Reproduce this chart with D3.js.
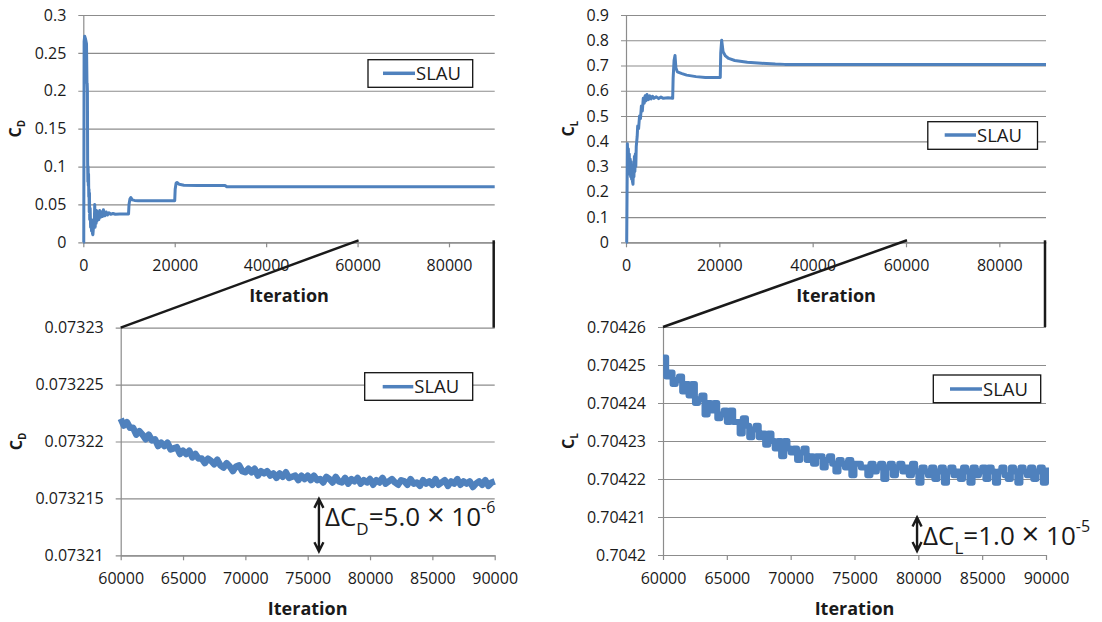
<!DOCTYPE html>
<html><head><meta charset="utf-8">
<script src="https://cdn.jsdelivr.net/npm/d3@7"></script>
<style>
body{margin:0;background:#fff;}
svg{display:block;font-family:"Open Sans",sans-serif;}
</style></head><body>
<svg id="c" width="1102" height="622"></svg>
<script>
// ---------------- data ----------------
const seriesName = "SLAU";
const xTitle = "Iteration";

// Top-left: C_D, whole history
const cdCoarseIter = [0,100,180,300,500,700,800,850,900,950,1000,1050,1100,1150,1200,1250,1300,1350,1400,1500,1600,1700,1800,1900,2000,2100,2200,2300,2400,2500,2600,2700,2800,2900,3000,3200,3400,3600,3800,4000,4200,4400,4700,5000,5300,5600,6000,6500,7000,8000,9000,9900,10000,10200,10400,10700,11200,12000,20000,20100,20300,20500,21000,22000,25000,31000,31400,40000,60000,90000];
const cdCoarseVal = [0,0,0.265,0.272,0.268,0.262,0.21,0.21,0.2,0.105,0.08,0.1,0.075,0.09,0.06,0.07,0.04,0.065,0.03,0.045,0.02,0.03,0.015,0.025,0.012,0.01,0.018,0.03,0.022,0.05,0.02,0.04,0.025,0.042,0.028,0.04,0.03,0.042,0.033,0.04,0.034,0.043,0.035,0.04,0.036,0.039,0.037,0.038,0.037,0.0375,0.0375,0.0375,0.05,0.057,0.059,0.056,0.0553,0.055,0.055,0.07,0.078,0.079,0.0765,0.0752,0.075,0.075,0.0733,0.0732,0.07322,0.07322];

// Top-right: C_L, whole history
const clCoarseIter = [0,150,300,400,500,600,700,800,900,1000,1100,1200,1300,1400,1500,1600,1700,1800,1900,2000,2100,2200,2400,2500,2700,2900,3100,3300,3500,3700,3900,4100,4300,4500,4800,5100,5400,5700,6000,6500,7000,7500,8000,9000,10000,10100,10300,10500,10700,11000,12000,13000,15000,17000,20200,20300,20500,20800,21300,22000,23300,26000,29000,32000,34000,50000,90000];
const clCoarseVal = [0,0,0.39,0.3,0.37,0.28,0.35,0.27,0.33,0.26,0.32,0.25,0.3,0.24,0.23,0.3,0.26,0.34,0.28,0.35,0.3,0.38,0.42,0.46,0.45,0.5,0.49,0.54,0.52,0.57,0.55,0.58,0.56,0.585,0.565,0.58,0.568,0.578,0.57,0.576,0.569,0.575,0.57,0.572,0.57,0.65,0.72,0.74,0.69,0.675,0.668,0.662,0.656,0.653,0.653,0.75,0.8,0.755,0.738,0.728,0.72,0.713,0.709,0.7055,0.7045,0.7043,0.70422];

// Bottom panels: iterations 60000..90000 sampled every 250
const fineIterStart = 60000, fineIterStep = 250;
const cdFineVal = [0.0732220,0.0732214,0.0732217,0.0732212,0.0732212,0.0732206,0.0732209,0.0732206,0.0732202,0.0732206,
 0.0732201,0.0732202,0.0732196,0.0732199,0.0732196,0.0732199,0.0732193,0.0732194,0.0732195,0.0732189,
 0.0732192,0.0732189,0.0732192,0.0732186,0.0732189,0.0732185,0.0732185,0.0732181,0.0732185,0.0732183,
 0.0732180,0.0732184,0.0732179,0.0732177,0.0732181,0.0732178,0.0732174,0.0732178,0.0732179,0.0732174,
 0.0732173,0.0732176,0.0732173,0.0732176,0.0732170,0.0732174,0.0732172,0.0732174,0.0732170,0.0732172,
 0.0732168,0.0732172,0.0732169,0.0732173,0.0732168,0.0732169,0.0732170,0.0732166,0.0732170,0.0732167,
 0.0732170,0.0732166,0.0732170,0.0732166,0.0732167,0.0732164,0.0732169,0.0732167,0.0732164,0.0732169,
 0.0732165,0.0732164,0.0732168,0.0732163,0.0732167,0.0732165,0.0732168,0.0732163,0.0732166,0.0732164,
 0.0732167,0.0732162,0.0732166,0.0732164,0.0732168,0.0732163,0.0732165,0.0732167,0.0732164,0.0732162,
 0.0732166,0.0732165,0.0732162,0.0732167,0.0732163,0.0732164,0.0732161,0.0732166,0.0732163,0.0732165,
 0.0732162,0.0732167,0.0732162,0.0732164,0.0732166,0.0732161,0.0732165,0.0732163,0.0732167,0.0732162,
 0.0732165,0.0732163,0.0732165,0.0732160,0.0732163,0.0732165,0.0732162,0.0732166,0.0732161,0.0732164,
 0.0732165];
const clFineVal = [0.704252,0.704247,0.704248,0.704245,0.704246,0.704247,0.704243,0.704245,0.704242,0.704245,
 0.704240,0.704241,0.704242,0.704237,0.704240,0.704238,0.704240,0.704236,0.704237,0.704238,
 0.704235,0.704238,0.704235,0.704235,0.704232,0.704236,0.704234,0.704231,0.704233,0.704234,
 0.704231,0.704232,0.704229,0.704232,0.704230,0.704228,0.704230,0.704226,0.704230,0.704228,
 0.704227,0.704228,0.704225,0.704227,0.704228,0.704225,0.704226,0.704224,0.704226,0.704226,
 0.704223,0.704225,0.704226,0.704224,0.704222,0.704225,0.704224,0.704223,0.704225,0.704221,
 0.704224,0.704224,0.704223,0.704223,0.704221,0.704224,0.704222,0.704223,0.704224,0.704220,
 0.704223,0.704224,0.704221,0.704223,0.704224,0.704222,0.704223,0.704221,0.704224,0.704222,
 0.704219,0.704223,0.704222,0.704221,0.704223,0.704220,0.704222,0.704223,0.704219,0.704222,
 0.704223,0.704221,0.704222,0.704220,0.704223,0.704222,0.704219,0.704223,0.704221,0.704222,
 0.704223,0.704220,0.704223,0.704222,0.704219,0.704222,0.704223,0.704221,0.704220,0.704223,
 0.704222,0.704219,0.704223,0.704222,0.704221,0.704223,0.704220,0.704222,0.704223,0.704219,
 0.704223];

// ticks
const coarseXTicks = [0,20000,40000,60000,80000];
const fineXTicks = [60000,65000,70000,75000,80000,85000,90000];
const cdCoarseYTicks = [0,0.05,0.1,0.15,0.2,0.25,0.3];
const cdCoarseYLabels = ["0","0.05","0.1","0.15","0.2","0.25","0.3"];
const clCoarseYTicks = [0,0.1,0.2,0.3,0.4,0.5,0.6,0.7,0.8,0.9];
const clCoarseYLabels = ["0","0.1","0.2","0.3","0.4","0.5","0.6","0.7","0.8","0.9"];
const cdFineYTicks = [0.07321,0.073215,0.07322,0.073225,0.07323];
const cdFineYLabels = ["0.07321","0.073215","0.07322","0.073225","0.07323"];
const clFineYTicks = [0.7042,0.70421,0.70422,0.70423,0.70424,0.70425,0.70426];
const clFineYLabels = ["0.7042","0.70421","0.70422","0.70423","0.70424","0.70425","0.70426"];

// ---------------- drawing ----------------
const svg = d3.select("#c");
const BLUE = "#4F81BD", GRID = "#8c8c8c", TXT = "#1a1a1a";

function panel(o){
  const x = d3.scaleLinear().domain(o.xDomain).range([o.x0, o.x1]);
  const y = d3.scaleLinear().domain(o.yDomain).range([o.y1, o.y0]);
  const w = o.x1 - o.x0;
  const g = svg.append("g");
  const ya = g.append("g").attr("transform", `translate(${o.x0},0)`)
    .call(d3.axisLeft(y).tickValues(o.yTicks).tickFormat((d,i)=>o.yLabels[i])
      .tickSizeInner(-w).tickSizeOuter(0).tickPadding(17));
  ya.attr("font-family", null).attr("font-size", null);
  ya.select(".domain").attr("stroke", GRID).attr("stroke-width", 1.2);
  ya.selectAll(".tick line").attr("stroke", GRID).attr("stroke-width", 1.2).attr("x1", -5);
  ya.selectAll(".tick text").attr("fill", TXT).style("font-size", "16px");
  const xa = g.append("g").attr("transform", `translate(0,${o.y1})`)
    .call(d3.axisBottom(x).tickValues(o.xTicks).tickFormat(d3.format("d"))
      .tickSizeInner(5).tickSizeOuter(0).tickPadding(12.5));
  xa.attr("font-family", null).attr("font-size", null);
  xa.select(".domain").attr("stroke", GRID).attr("stroke-width", 1.2);
  xa.selectAll(".tick line").attr("stroke", GRID).attr("stroke-width", 1.2);
  xa.selectAll(".tick text").attr("fill", TXT).style("font-size", "16px");
  g.append("text").attr("x", (o.x0 + o.x1)/2).attr("y", o.y1 + 60)
    .attr("text-anchor", "middle").attr("font-weight", 700).attr("font-size", 18)
    .attr("fill", TXT).text(xTitle);
  const yt = g.append("text").attr("transform", `translate(${o.titleX},${(o.y0+o.y1)/2}) rotate(-90)`)
    .attr("text-anchor", "middle").attr("font-weight", 700).attr("font-size", 16).attr("fill", TXT);
  yt.append("tspan").text("C");
  yt.append("tspan").attr("font-size", 10).attr("dy", 4).text(o.sub);
  g.append("path").datum(o.data).attr("fill", "none").attr("stroke", BLUE)
    .attr("stroke-width", o.sw || 3).attr("stroke-linejoin", "round")
    .attr("d", d3.line().x(d=>x(d[0])).y(d=>y(d[1])).curve(o.curve || d3.curveLinear));
  const L = o.legend;
  g.append("rect").attr("x", L.bx0).attr("y", L.by0).attr("width", L.bx1-L.bx0).attr("height", L.by1-L.by0)
    .attr("fill", "#fff").attr("stroke", "#111").attr("stroke-width", 1.3);
  g.append("line").attr("x1", L.lx0).attr("x2", L.lx1).attr("y1", L.ly).attr("y2", L.ly)
    .attr("stroke", BLUE).attr("stroke-width", 3.5);
  g.append("text").attr("x", L.lx1 + 1).attr("y", L.ly + 6.5).attr("font-size", 18.5)
    .attr("fill", TXT).text(seriesName);
  return {x, y};
}

const tl = panel({x0:83.3, x1:494.7, y0:15, y1:242.3, xDomain:[0,90000], yDomain:[0,0.3],
  xTicks:coarseXTicks, yTicks:cdCoarseYTicks, yLabels:cdCoarseYLabels, sub:"D", titleX:21,
  data:d3.zip(cdCoarseIter, cdCoarseVal),
  legend:{bx0:368, by0:59.7, bx1:472.7, by1:87.3, lx0:383, lx1:415, ly:73.3}});

const tr = panel({x0:626, x1:1046, y0:15, y1:242.3, xDomain:[0,90000], yDomain:[0,0.9],
  xTicks:coarseXTicks, yTicks:clCoarseYTicks, yLabels:clCoarseYLabels, sub:"L", titleX:574,
  data:d3.zip(clCoarseIter, clCoarseVal),
  legend:{bx0:927.8, by0:121.7, bx1:1037.5, by1:149.3, lx0:944.7, lx1:976, ly:135}});

const bl = panel({x0:120.7, x1:494.7, y0:327.7, y1:555.3, xDomain:[60000,90000], yDomain:[0.07321,0.07323],
  xTicks:fineXTicks, yTicks:cdFineYTicks, yLabels:cdFineYLabels, sub:"D", titleX:22,
  data:cdFineVal.map((v,i)=>[fineIterStart + i*fineIterStep, v]), sw:6.5,
  legend:{bx0:364.7, by0:372.7, bx1:472.7, by1:400.3, lx0:382.7, lx1:413.3, ly:386.7}});

const br = panel({x0:663, x1:1046, y0:327, y1:555, xDomain:[60000,90000], yDomain:[0.7042,0.70426],
  xTicks:fineXTicks, yTicks:clFineYTicks, yLabels:clFineYLabels, sub:"L", titleX:574,
  data:clFineVal.map((v,i)=>[fineIterStart + i*fineIterStep, v]), curve:d3.curveStepAfter, sw:6,
  legend:{bx0:933.3, by0:375, bx1:1040.7, by1:402.7, lx0:950, lx1:982, ly:389}});

function connector(top, bot){
  const g = svg.append("g").attr("stroke", "#1a1a1a").attr("stroke-width", 2.5).attr("fill", "none");
  const yT = top.y(0) - 2;
  const yB = bot.y.range()[1];
  g.append("line").attr("x1", top.x(60000) + 1).attr("y1", yT).attr("x2", bot.x(60000)).attr("y2", yB);
  g.append("line").attr("x1", top.x(90000) - 1).attr("y1", yT).attr("x2", top.x(90000) - 1).attr("y2", yB);
}
connector(tl, bl);
connector(tr, br);

function annot(p, iter, yTopVal, yBotVal, sub, mant, exp){
  const ax = p.x(iter), a = p.y(yTopVal) + 0.5, b = p.y(yBotVal) - 4;
  svg.append("path").attr("fill", "none").attr("stroke", "#1a1a1a").attr("stroke-width", 2.4)
    .attr("d", `M${ax},${a}V${b}M${ax-4.5},${a+9}L${ax},${a}L${ax+4.5},${a+9}M${ax-4.5},${b-9}L${ax},${b}L${ax+4.5},${b-9}`);
  const t = svg.append("text").attr("x", ax + 6).attr("y", p.y(yTopVal) + 28)
    .attr("font-size", 26).attr("fill", TXT);
  t.append("tspan").text("ΔC");
  t.append("tspan").attr("font-size", 17).attr("dy", 9).text(sub);
  t.append("tspan").attr("dy", -9).text("=" + mant + " ");
  t.append("tspan").attr("font-size", 31).text("×");
  t.append("tspan").text(" 10");
  t.append("tspan").attr("font-size", 16).attr("dy", -13).text(exp);
}
annot(bl, 75900, 0.073215, 0.07321, "D", "5.0", "-6");
annot(br, 79900, 0.70421, 0.7042, "L", "1.0", "-5");
</script>
</body></html>
